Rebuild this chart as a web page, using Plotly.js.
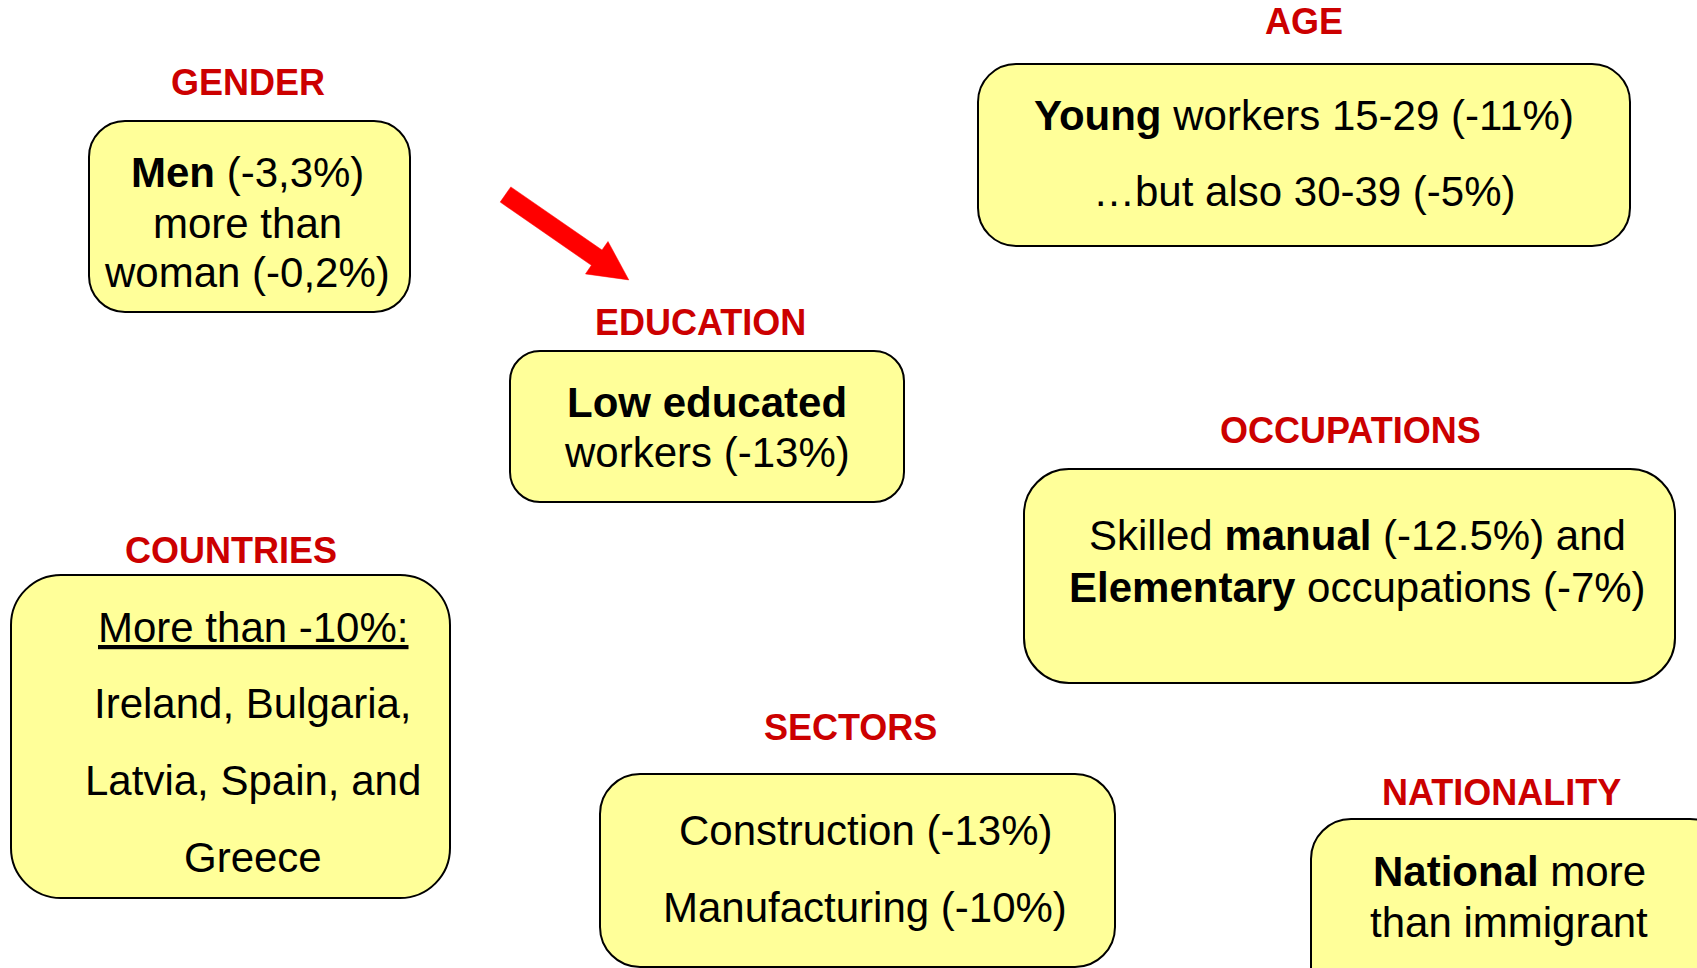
<!DOCTYPE html>
<html>
<head>
<meta charset="utf-8">
<script src="https://cdn.plot.ly/plotly-3.0.1.min.js"></script>
<style>
  html, body { margin: 0; padding: 0; background: #ffffff; }
  #chart { width: 1697px; height: 968px; }
</style>
</head>
<body>
<div id="chart"></div>
<script>
// ---- content ----
const sectionLabels = ['GENDER', 'AGE', 'EDUCATION', 'OCCUPATIONS', 'COUNTRIES', 'SECTORS', 'NATIONALITY'];
const genderLines = ['<b>Men</b> (-3,3%)', 'more than', 'woman (-0,2%)'];
const ageLines = ['<b>Young</b> workers 15-29 (-11%)', '\u2026but also 30-39 (-5%)'];
const educationLines = ['<b>Low educated</b>', 'workers (-13%)'];
const occupationLines = ['Skilled <b>manual</b> (-12.5%) and', '<b>Elementary</b> occupations (-7%)'];
const countryLines = ['<u>More than -10%:</u>', 'Ireland, Bulgaria,', 'Latvia, Spain, and', 'Greece'];
const sectorLines = ['Construction (-13%)', 'Manufacturing (-10%)'];
const nationalityLines = ['<b>National</b> more', 'than immigrant'];
const sectionLines = [genderLines, ageLines, educationLines, occupationLines, countryLines, sectorLines, nationalityLines];

// ---- layout geometry (pixels) ----
// box: [x0, y0, x1, y1, cornerRadius]
const boxGeom = [
  [89, 121, 410, 312, 36],
  [978, 64, 1630, 246, 38],
  [510, 351, 904, 502, 30],
  [1024, 469, 1675, 683, 45],
  [11, 575, 450, 898, 50],
  [600, 774, 1115, 967, 40],
  [1311, 819, 1730, 1010, 40]
];
// label: [centerX, baseline]
const labelGeom = [
  [248, 95], [1304, 34], [700, 335], [1350, 443], [231, 563], [850, 740], [1501, 805]
];
// text lines: centerX, baselines
const lineCenterX = [247, 1304, 707, 1357, 253, 865, 1509];
const lineBaselines = [
  [187, 238, 287],
  [130, 206],
  [417, 467],
  [550, 602],
  [642, 718, 795, 872],
  [845, 922],
  [886, 937]
];
const arrowGeom = {tail: [505.5, 194.5], tip: [628.8, 279.9], shaftHalf: 9.3, headHalf: 19.7, headLen: 39};

const FONT = 'Liberation Sans, Arial, Helvetica, sans-serif';
const LABEL_SIZE = 36;
const BODY_SIZE = 42;
const YELLOW = '#FFFF99';
const LABEL_RED = '#CC0000';

function roundedRect(x0, y0, x1, y1, r) {
  const k = 0.5523 * r;
  return `M ${x0 + r},${y0} L ${x1 - r},${y0} C ${x1 - r + k},${y0} ${x1},${y0 + r - k} ${x1},${y0 + r} ` +
         `L ${x1},${y1 - r} C ${x1},${y1 - r + k} ${x1 - r + k},${y1} ${x1 - r},${y1} ` +
         `L ${x0 + r},${y1} C ${x0 + r - k},${y1} ${x0},${y1 - r + k} ${x0},${y1 - r} ` +
         `L ${x0},${y0 + r} C ${x0},${y0 + r - k} ${x0 + r - k},${y0} ${x0 + r},${y0} Z`;
}

function arrowPath(a) {
  const [tx, ty] = a.tail, [px, py] = a.tip;
  const dx = px - tx, dy = py - ty, L = Math.hypot(dx, dy);
  const ux = dx / L, uy = dy / L, nx = -uy, ny = ux;
  const bx = px - ux * a.headLen, by = py - uy * a.headLen;
  const pts = [
    [tx - nx * a.shaftHalf, ty - ny * a.shaftHalf],
    [bx - nx * a.shaftHalf, by - ny * a.shaftHalf],
    [bx - nx * a.headHalf, by - ny * a.headHalf],
    [px, py],
    [bx + nx * a.headHalf, by + ny * a.headHalf],
    [bx + nx * a.shaftHalf, by + ny * a.shaftHalf],
    [tx + nx * a.shaftHalf, ty + ny * a.shaftHalf]
  ];
  return 'M ' + pts.map(p => p[0].toFixed(1) + ',' + p[1].toFixed(1)).join(' L ') + ' Z';
}

const shapes = boxGeom.map(b => ({
  type: 'path', xref: 'x', yref: 'y', layer: 'below',
  path: roundedRect(b[0], b[1], b[2], b[3], b[4]),
  fillcolor: YELLOW, line: {color: '#000000', width: 2}
}));
shapes.push({
  type: 'path', xref: 'x', yref: 'y', layer: 'below',
  path: arrowPath(arrowGeom), fillcolor: '#FF0000', line: {color: '#FF0000', width: 0.5}
});

const annotations = [];
sectionLabels.forEach((lab, i) => {
  annotations.push({
    text: '<b>' + lab + '</b>', x: labelGeom[i][0], y: labelGeom[i][1] - 0.35 * LABEL_SIZE,
    xref: 'x', yref: 'y', xanchor: 'center', yanchor: 'middle', showarrow: false,
    font: {family: FONT, size: LABEL_SIZE, color: LABEL_RED}
  });
  sectionLines[i].forEach((t, j) => {
    annotations.push({
      text: t, x: lineCenterX[i], y: lineBaselines[i][j] - 0.35 * BODY_SIZE,
      xref: 'x', yref: 'y', xanchor: 'center', yanchor: 'middle', showarrow: false,
      font: {family: FONT, size: BODY_SIZE, color: '#000000'}
    });
  });
});

const layout = {
  width: 1697, height: 968,
  margin: {l: 0, r: 0, t: 0, b: 0, pad: 0},
  paper_bgcolor: '#ffffff', plot_bgcolor: '#ffffff',
  showlegend: false,
  xaxis: {range: [0, 1697], visible: false, fixedrange: true},
  yaxis: {range: [968, 0], visible: false, fixedrange: true},
  shapes: shapes,
  annotations: annotations
};

Plotly.newPlot('chart', [{x: [], y: [], type: 'scatter', mode: 'markers', hoverinfo: 'skip'}], layout,
  {staticPlot: true, displayModeBar: false});
</script>
</body>
</html>
